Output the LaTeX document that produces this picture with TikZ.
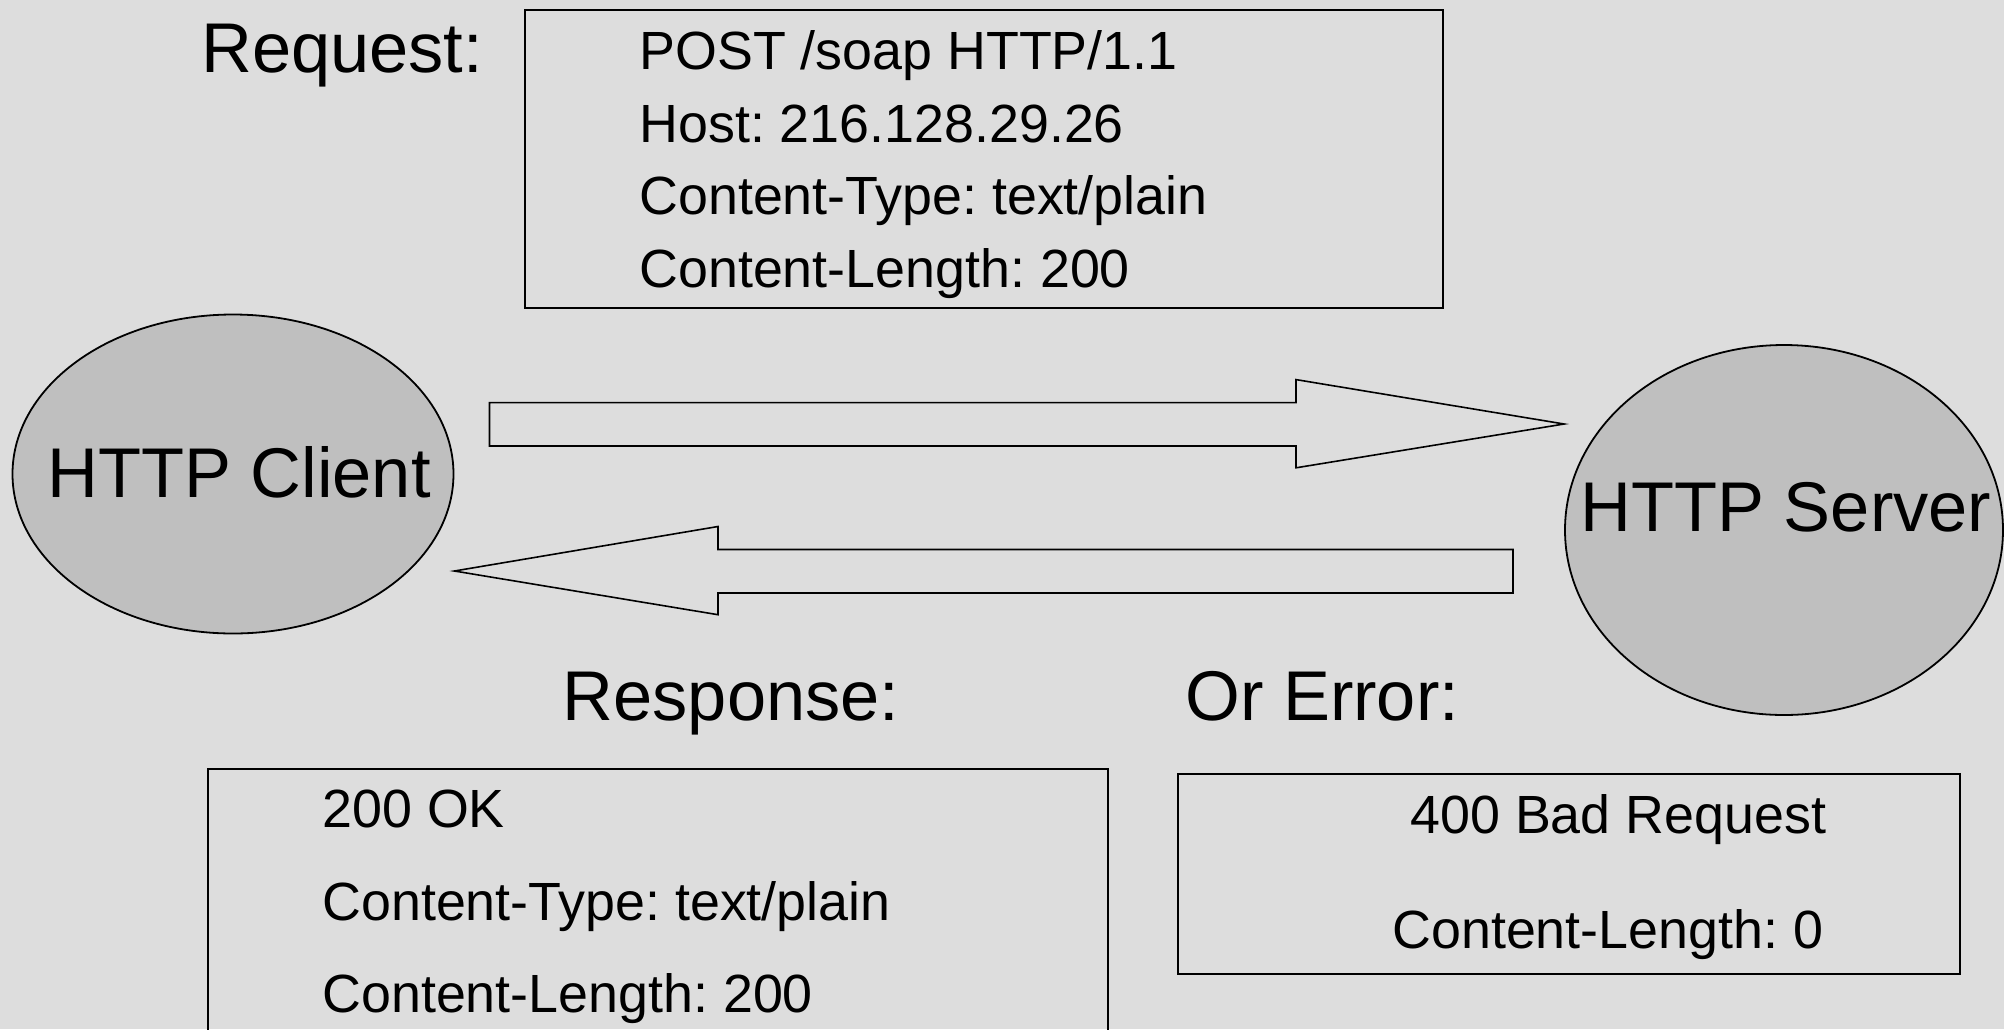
\documentclass[tikz,border=0pt]{standalone}
\usepackage{fontspec}
\setmainfont{Liberation Sans}
\usetikzlibrary{shapes.geometric}
\frenchspacing
\definecolor{pagebg}{HTML}{DDDDDD}
\definecolor{peerfill}{HTML}{BFBFBF}
\tikzset{
  peer/.style={ellipse, draw=black, fill=peerfill, line width=0.9pt, inner sep=0pt},
  msgbox/.style={draw=black, line width=0.8pt, inner sep=0pt, anchor=north west},
  bodytext/.style={anchor=base west, inner sep=0pt, font=\fontsize{26.9}{30}\selectfont},
  bigtext/.style={anchor=base west, inner sep=0pt, font=\fontsize{35.2}{40}\selectfont},
  flow/.style={draw=black, fill=pagebg, line width=0.8pt, line join=miter},
}
\begin{document}
\begin{tikzpicture}[x=0.5pt, y=-0.5pt]
  % page
  \fill[pagebg] (0,0) rectangle (2004,1029);
  \useasboundingbox (0,0) rectangle (2004,1029);

  % peers
  \node[peer, minimum width=220.5pt, minimum height=159.5pt] (client) at (233,474) {};
  \node[peer, minimum width=219pt, minimum height=185pt] (server) at (1784,530) {};
  \node[bigtext, anchor=base] (clientlbl) at (239,497) {HTTP Client};
  \node[bigtext, anchor=base] (serverlbl) at (1786,531) {HTTP Server};

  % request message
  \node[bigtext] (reqlbl) at (201,72.5) {Request:};
  \node[msgbox, minimum width=459pt, minimum height=149pt] (reqbox) at (524,9) {};
  \node[bodytext] (req1) at (639,69) {POST /soap HTTP/1.1};
  \node[bodytext] (req2) at (639,142) {Host: 216.128.29.26};
  \node[bodytext] (req3) at (639,214) {Content-Type: text/plain};
  \node[bodytext] (req4) at (639,287) {Content-Length: 200};

  % request flow: client -> server
  \coordinate (reqtip) at (server.west);
  \draw[flow] (489.5,402.6) -- (1296,402.6) -- (1296,379.6) -- (reqtip |- 0,424)
    -- (1296,467.8) -- (1296,446) -- (489.5,446) -- cycle;

  % response flow: server -> client
  \coordinate (resptip) at (client.east);
  \draw[flow] (1513,549.5) -- (718,549.5) -- (718,526.5) -- (resptip |- 0,571)
    -- (718,614.7) -- (718,593) -- (1513,593) -- cycle;

  % response message
  \node[bigtext, anchor=base] (resplbl) at (731,720.4) {Response:};
  \node[msgbox, minimum width=450pt, minimum height=140pt] (respbox) at (207,768) {};
  \node[bodytext] (resp1) at (322,827) {200 OK};
  \node[bodytext] (resp2) at (322,920) {Content-Type: text/plain};
  \node[bodytext] (resp3) at (322,1012) {Content-Length: 200};

  % error message
  \node[bigtext] (errlbl) at (1185,720.4) {Or Error:};
  \node[msgbox, minimum width=391pt, minimum height=100pt] (errbox) at (1177,773) {};
  \node[bodytext] (err1) at (1410,833) {400 Bad Request};
  \node[bodytext] (err2) at (1392,948) {Content-Length: 0};
\end{tikzpicture}
\end{document}
